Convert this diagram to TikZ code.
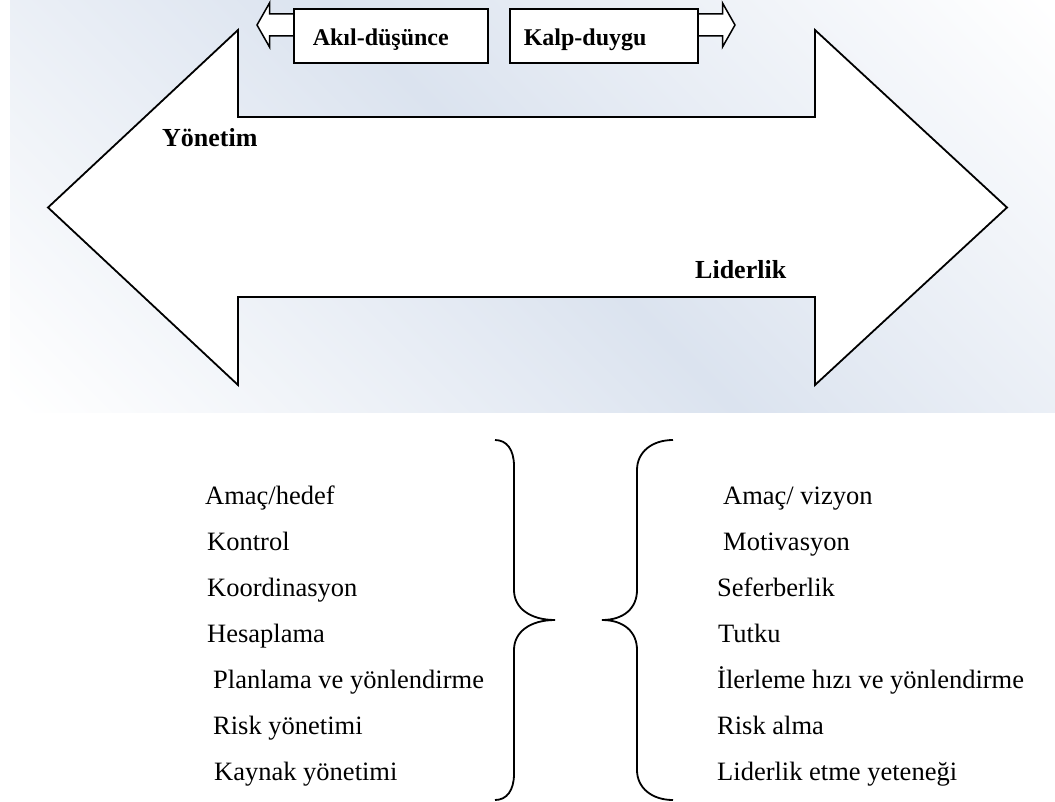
\documentclass[tikz,border=0pt]{standalone}
\usepackage{fontspec}
\setmainfont{Liberation Serif}
\definecolor{bgblue}{RGB}{219,227,239}
\pgfdeclarehorizontalshading{bgshade}{100bp}{color(0bp)=(white); color(15bp)=(white); color(50bp)=(bgblue); color(85bp)=(white); color(100bp)=(white)}
\begin{document}
\begin{tikzpicture}[x=1bp,y=-1bp,
  outl/.style={draw=black, line width=1.8bp, line join=miter, fill=white},
  boxst/.style={draw=black, line width=1.5bp, fill=white, font=\fontsize{24bp}{28bp}\selectfont\bfseries, text height=21bp, text depth=2bp, minimum height=54bp, inner ysep=0pt, align=left},
  title/.style={font=\fontsize{26bp}{30bp}\selectfont\bfseries, inner sep=0pt, anchor=base west},
  item/.style={font=\fontsize{26.5bp}{30bp}\selectfont, inner sep=0pt, anchor=base west},
  bracest/.style={draw=black, line width=1.8bp}]
\useasboundingbox (0,0) rectangle (1055,802);
% background
\shade[shading=bgshade, shading angle=45] (10,0) rectangle (1055,412);
% big double arrow
\draw[outl] (48,207.5) -- (238,30) -- (238,117) -- (815,117) -- (815,30) -- (1007,207.5) -- (815,385) -- (815,297) -- (238,297) -- (238,385) -- cycle;
% small arrows
\draw[outl, line width=1.5bp] (257,25) -- (269.5,3) -- (269.5,14) -- (300,14) -- (300,36) -- (269.5,36) -- (269.5,47) -- cycle;
\draw[outl, line width=1.5bp] (735,25) -- (722.5,3) -- (722.5,14) -- (690,14) -- (690,36) -- (722.5,36) -- (722.5,47) -- cycle;
% boxes
\node[boxst, anchor=west, inner xsep=19bp, text width=156bp] (akil) at (293,36) {Akıl-düşünce};
\node[boxst, anchor=west, inner xsep=14bp, text width=160bp] (kalp) at (509,36) {Kalp-duygu};
% titles
\node[title] (yonetim) at (162,146) {Yönetim};
\node[title] (liderlik) at (695,278) {Liderlik};
% left list
\node[item] (a1) at (205,504) {Amaç/hedef};
\node[item] (a2) at (207,550) {Kontrol};
\node[item] (a3) at (207,596) {Koordinasyon};
\node[item] (a4) at (207,642) {Hesaplama};
\node[item] (a5) at (213,688) {Planlama ve yönlendirme};
\node[item] (a6) at (213,734) {Risk yönetimi};
\node[item] (a7) at (214,780) {Kaynak yönetimi};
% right list
\node[item] (b1) at (723,504) {Amaç/ vizyon};
\node[item] (b2) at (723,550) {Motivasyon};
\node[item] (b3) at (717,596) {Seferberlik};
\node[item] (b4) at (718,642) {Tutku};
\node[item] (b5) at (717,688) {İlerleme hızı ve yönlendirme};
\node[item] (b6) at (717,734) {Risk alma};
\node[item] (b7) at (717,780) {Liderlik etme yeteneği};
% braces
\draw[bracest] (495,440) .. controls (507,440) and (514,450) .. (514,466) -- (514,590) .. controls (514,608) and (530,620) .. (555,620) .. controls (530,620) and (514,632) .. (514,650) -- (514,774) .. controls (514,790) and (507,800) .. (495,800);
\draw[bracest] (673,440) .. controls (652,440) and (637,452) .. (637,470) -- (637,590) .. controls (637,608) and (624,620) .. (602,620) .. controls (624,620) and (637,632) .. (637,650) -- (637,770) .. controls (637,788) and (652,800) .. (673,800);
\end{tikzpicture}
\end{document}
